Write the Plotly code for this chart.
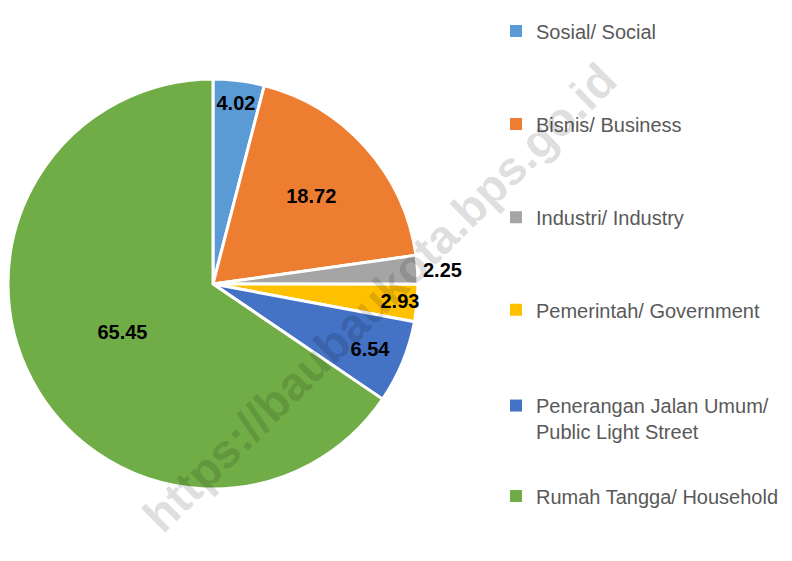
import plotly.graph_objects as go

labels = ["Sosial/ Social", "Bisnis/ Business", "Industri/ Industry",
          "Pemerintah/ Government", "Penerangan Jalan Umum/<br>Public Light Street",
          "Rumah Tangga/ Household"]
values = [4.02, 18.72, 2.25, 2.93, 6.54, 65.45]
colors = ["#5B9BD5", "#ED7D31", "#A5A5A5", "#FFC000", "#4472C4", "#70AD47"]
text_positions = ["inside", "inside", "outside", "inside", "inside", "inside"]
legend_y = [0.943, 0.777, 0.611, 0.446, 0.278, 0.114]

W, H = 792, 561
fig = go.Figure()

fig.add_trace(go.Pie(
    labels=labels, values=values, sort=False, direction="clockwise", rotation=0,
    marker=dict(colors=colors, line=dict(color="white", width=3)),
    texttemplate="%{value:.2f}", textposition=text_positions,
    insidetextorientation="horizontal",
    textfont=dict(family="Liberation Sans, Arial, sans-serif", size=20, color="black", weight="bold"),
    showlegend=False, hoverinfo="label+value",
    domain=dict(x=[0, 410 / W], y=[1 - 481 / H, 1 - 71 / H]),
))

for i, (lab, col) in enumerate(zip(labels, colors)):
    lname = "legend" if i == 0 else f"legend{i + 1}"
    fig.add_trace(go.Scatter(
        x=[None], y=[None], mode="markers", name=lab,
        marker=dict(symbol="square", size=8, color=col),
        legend=lname, showlegend=True,
    ))

legend_common = dict(
    font=dict(family="Liberation Sans, Arial, sans-serif", size=20, color="#595959"),
    bgcolor="rgba(0,0,0,0)", xanchor="left", x=488 / W, itemsizing="constant",
    itemwidth=30, valign="top",
)
layout_legends = {}
for i, ly in enumerate(legend_y):
    lname = "legend" if i == 0 else f"legend{i + 1}"
    d = dict(legend_common)
    if i == 4:
        d.update(y=ly + 27 / H, yanchor="top")
    else:
        d.update(y=ly + 9 / H, yanchor="middle")
    layout_legends[lname] = d

fig.update_layout(
    width=W, height=H, margin=dict(l=0, r=0, t=0, b=0, autoexpand=False),
    paper_bgcolor="white", plot_bgcolor="white",
    xaxis=dict(visible=False), yaxis=dict(visible=False),
    uniformtext=dict(minsize=20, mode="show"),
    **layout_legends,
)

fig.add_annotation(
    text="https://baubaukota.bps.go.id", xref="paper", yref="paper",
    x=371 / W, y=1 - 289 / H, showarrow=False, textangle=-44.7,
    font=dict(family="Liberation Sans, Arial, sans-serif", size=47, color="rgba(0,0,0,0.15)", weight="bold"),
)

fig.write_html("out.html")
